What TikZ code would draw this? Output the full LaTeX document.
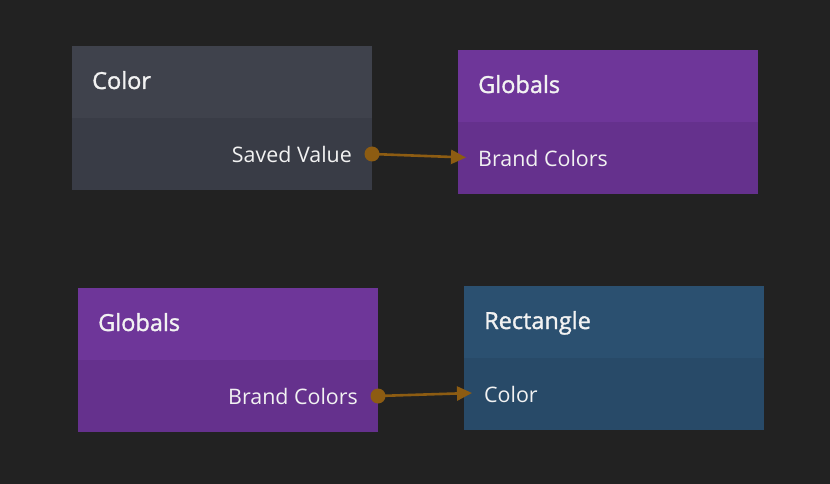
\documentclass[tikz,border=0pt]{standalone}
\usepackage{fontspec}
\setmainfont{Open Sans}
\newfontfamily\titlefont[FakeBold=1.4]{Open Sans}
\usetikzlibrary{arrows.meta,positioning}
\definecolor{bg}{HTML}{222222}
\definecolor{greyhead}{HTML}{3F424C}
\definecolor{greybody}{HTML}{393C46}
\definecolor{purphead}{HTML}{6E3699}
\definecolor{purpbody}{HTML}{65318D}
\definecolor{bluehead}{HTML}{2B5070}
\definecolor{bluebody}{HTML}{284A68}
\definecolor{wire}{HTML}{8D5C12}
\definecolor{txt}{HTML}{F2F2F2}
\tikzset{
  head/.style={anchor=north west, minimum width=300pt, minimum height=72pt, inner sep=0pt, outer sep=0pt},
  body/.style={anchor=north west, minimum width=300pt, minimum height=72pt, inner sep=0pt, outer sep=0pt},
  title/.style={anchor=base west, inner sep=0pt, text=txt, font=\titlefont\fontsize{23.5pt}{26pt}\selectfont},
  port/.style={inner sep=0pt, text=txt, font=\fontsize{21.4pt}{25pt}\selectfont},
  wireline/.style={draw=wire, line width=2.6pt, -{Triangle[length=15pt,width=14pt]}},
  dot/.style={circle, fill=wire, minimum size=15pt, inner sep=0pt},
}
\begin{document}
\begin{tikzpicture}[x=1pt,y=-1pt]
\fill[bg] (0,0) rectangle (830,484);
\useasboundingbox (0,0) rectangle (830,484);
% Color node
\node[head, fill=greyhead] (colh) at (72,46) {};
\node[body, fill=greybody] (colb) at (72,118) {};
\node[title] (colt) at (92,89) {Color};
\node[port, anchor=base east] (colp) at (352,162.5) {Saved Value};
% Globals top
\node[head, fill=purphead] (g1h) at (458,50) {};
\node[body, fill=purpbody] (g1b) at (458,122) {};
\node[title] (g1t) at (478,93) {Globals};
\node[port, anchor=base west] (g1p) at (478,166.5) {Brand Colors};
% Globals bottom
\node[head, fill=purphead] (g2h) at (78,288) {};
\node[body, fill=purpbody] (g2b) at (78,360) {};
\node[title] (g2t) at (98,331) {Globals};
\node[port, anchor=base east] (g2p) at (358,404.5) {Brand Colors};
% Rectangle
\node[head, fill=bluehead] (rh) at (464,286) {};
\node[body, fill=bluebody] (rb) at (464,358) {};
\node[title] (rt) at (484,329) {Rectangle};
\node[port, anchor=base west] (rp) at (484,402.5) {Color};
% connectors
\node[dot] (d1) at (372,154) {};
\coordinate (t1) at (466,157.5);
\draw[wireline] (d1.center) -- (t1);
\node[dot] (d2) at (378,396) {};
\coordinate (t2) at (472,393);
\draw[wireline] (d2.center) -- (t2);
\end{tikzpicture}
\end{document}
